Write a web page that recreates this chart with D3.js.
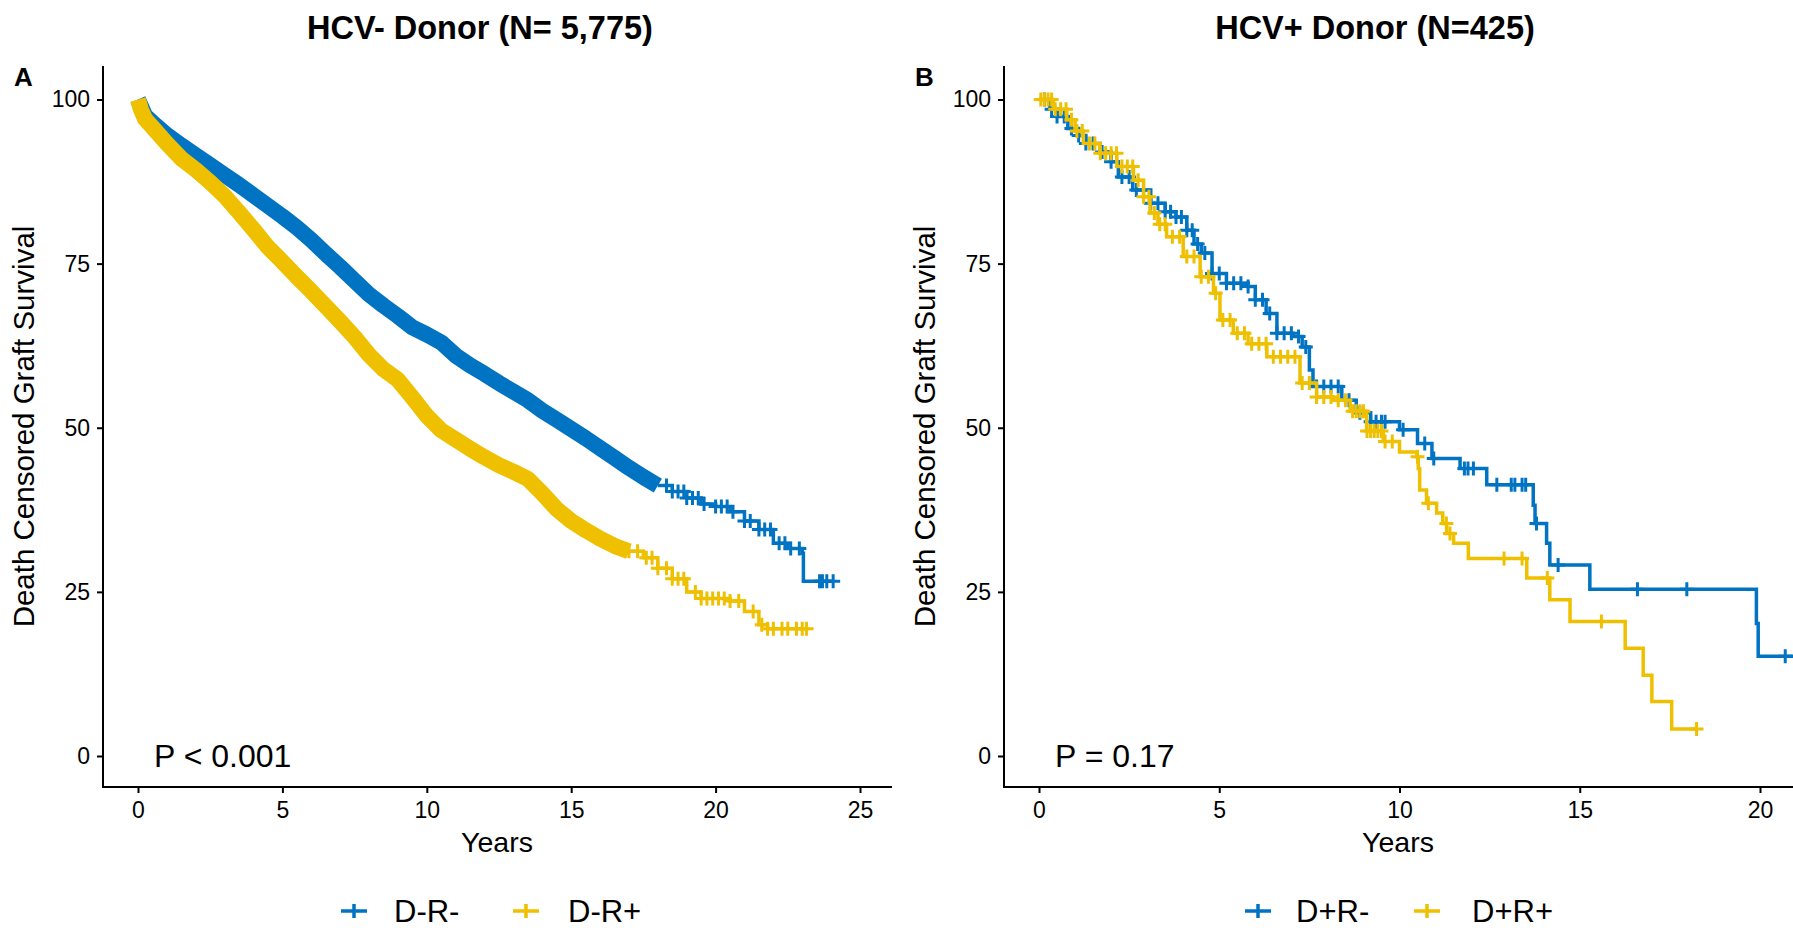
<!DOCTYPE html>
<html><head><meta charset="utf-8">
<script src="https://cdn.jsdelivr.net/npm/d3@7"></script>
<style>
html,body{margin:0;padding:0;background:#fff;}
svg text{font-family:"Liberation Sans",Arial,Helvetica,sans-serif;fill:#000;}
</style></head>
<body><svg id="chart" width="1793" height="931"></svg>
<script>
// ---------- data ----------
const colors = ["#0073C2", "#EFC000"];
const yTicks = [0, 25, 50, 75, 100];
const xTicksA = [0, 5, 10, 15, 20, 25];
const xTicksB = [0, 5, 10, 15, 20];

// Panel A : HCV- donor
const timeA_DRneg = [0,0.25,0.5,1,1.5,2,2.5,3,3.5,4,4.5,5,5.5,6,6.5,7,7.5,8,8.5,9,9.5,10,10.5,11,11.5,12,12.5,13,13.5,14,14.5,15,15.5,16,16.5,17,17.5,18,18.5,19,19.5,20,20.5,21,21.5,22,22.5,23,23.04,24.07];
const survA_DRneg = [100,97.5,96.5,94.6,93.0,91.5,90.0,88.5,87.0,85.4,83.8,82.2,80.5,78.6,76.5,74.5,72.4,70.3,68.6,67.0,65.3,64.2,63.0,61.0,59.5,58.2,56.8,55.5,54.2,52.6,51.2,49.8,48.4,46.9,45.4,43.9,42.5,41.2,40.3,39.3,38.4,38.0,37.2,35.8,34.5,32.4,31.6,30.9,26.6,26.6];
const timeA_DRpos = [0,0.1,0.25,0.5,1,1.5,2,2.5,3,3.5,4,4.5,5,5.5,6,6.5,7,7.5,8,8.5,9,9.5,10,10.5,11,11.5,12,12.5,13,13.5,14,14.5,15,15.5,16,16.5,17,17.5,18,18.5,19,19.5,20,20.5,21,21.5,21.8,23.15];
const survA_DRpos = [100,98.5,97.0,95.8,93.3,91.0,89.3,87.4,85.3,82.8,80.2,77.5,75.3,73.0,70.8,68.5,66.2,63.8,61.1,58.9,57.3,54.6,51.8,49.6,48.2,46.8,45.5,44.3,43.3,42.2,40.0,37.6,35.8,34.4,33.1,32.0,31.2,30.2,28.6,27.0,25.0,24.0,24.0,23.6,22.0,20.0,19.4,19.4];
// censored times in the sparse tail (earlier censoring is too dense to separate)
const censorA_DRneg = [18.3,18.5,18.7,18.9,19.0,19.2,19.4,19.6,20.0,20.2,20.4,20.6,21.0,21.2,21.5,21.7,21.9,22.2,22.4,22.6,22.9,23.6,23.7,23.85,24.07];
const censorA_DRpos = [17.0,17.3,17.6,17.8,18.0,18.3,18.5,18.7,18.9,19.3,19.5,19.7,19.9,20.1,20.3,20.5,20.8,21.3,21.6,21.8,22.0,22.3,22.5,22.8,23.0,23.15];

// Panel B : HCV+ donor
const timeB_DRneg = [0,0.3,0.5,0.8,1.1,1.3,1.7,2.0,2.2,2.6,3.1,3.5,3.8,4.1,4.3,4.5,4.8,5.2,5.8,6.0,6.3,6.6,7.05,7.3,7.5,7.6,8.4,8.8,9.2,10.0,10.5,10.9,11.68,12.42,13.71,13.76,14.08,14.17,15.28,19.9,19.95,21.3];
const survB_DRneg = [100,98.5,97.4,95.6,94.5,93.3,92.0,90.5,88.2,86.2,84.2,82.9,82.1,80.1,78.0,76.6,73.5,72.0,71.5,69.5,67.4,64.4,63.9,62.3,58.8,56.3,54.2,52.3,50.9,49.7,47.6,45.3,43.8,41.3,38.2,35.4,32.4,29.1,25.4,20.2,15.2,15.2];
const timeB_DRpos = [0,0.4,0.77,1.0,1.23,1.69,2.16,2.62,2.9,3.08,3.3,3.54,4.0,4.47,4.84,5.02,5.39,5.8,6.32,7.24,7.7,8.16,8.63,9.09,9.55,10.0,10.48,10.52,10.56,10.75,11.03,11.2,11.31,11.5,11.91,13.53,14.17,14.73,16.26,16.76,17.0,17.55,18.24];
const survB_DRpos = [100,98.5,96.9,95.2,93.3,91.8,89.8,87.7,85.2,82.7,81.0,79.1,76.1,73.0,70.5,66.4,64.4,62.8,60.8,56.8,54.7,54.2,52.5,49.5,47.9,46.3,45.6,43.8,40.5,38.5,37.0,35.4,33.9,32.4,30.1,27.1,23.8,20.5,16.4,12.3,8.3,4.1,4.1];
const censorB_DRneg = [0.15,0.35,0.5,0.7,0.9,1.1,1.3,1.5,1.75,2.0,2.3,2.5,2.7,2.9,3.1,3.3,3.5,3.65,3.8,3.95,4.1,4.25,4.4,4.6,4.8,5.0,5.2,5.4,5.6,5.8,6.0,6.2,6.4,6.6,6.8,7.0,7.2,7.4,7.7,7.9,8.1,8.3,8.6,8.9,9.2,9.35,9.5,9.6,10.1,10.7,10.95,11.8,11.9,12.05,12.7,13.1,13.2,13.4,13.5,13.8,14.4,16.6,17.97,20.7];
const censorB_DRpos = [0.05,0.15,0.25,0.35,0.45,0.6,0.75,0.9,1.05,1.2,1.4,1.55,1.7,1.85,2.0,2.15,2.3,2.45,2.6,2.75,2.9,3.05,3.2,3.35,3.5,3.7,3.9,4.1,4.3,4.5,4.7,4.9,5.1,5.3,5.5,5.7,5.9,6.1,6.3,6.5,6.7,6.9,7.1,7.3,7.5,7.7,7.9,8.1,8.3,8.5,8.7,8.8,8.9,9.0,9.1,9.2,9.3,9.4,9.5,9.6,9.8,10.5,10.8,11.3,11.4,12.9,13.4,14.1,15.6,18.24];

const panels = [
  {letter:"A", title:"HCV- Donor (N= 5,775)", pText:"P < 0.001", xTicks:xTicksA, xDomain:[0,25],
   names:["D-R-","D-R+"],
   series:[{t:timeA_DRneg,s:survA_DRneg,c:censorA_DRneg,dense:true},{t:timeA_DRpos,s:survA_DRpos,c:censorA_DRpos,dense:true}]},
  {letter:"B", title:"HCV+ Donor (N=425)", pText:"P = 0.17", xTicks:xTicksB, xDomain:[0,20],
   names:["D+R-","D+R+"],
   series:[{t:timeB_DRneg,s:survB_DRneg,c:censorB_DRneg,dense:false},{t:timeB_DRpos,s:survB_DRpos,c:censorB_DRpos,dense:false}]}
];

// ---------- layout ----------
const layout = [
  {axisX:103, left:103, right:892, x0:138, x1:860, titleX:480, ylabX:34, xlabX:497, legend:[354,394,526,568]},
  {axisX:1004, left:1004, right:1800, x0:1039, x1:1760, titleX:1375, ylabX:935, xlabX:1398, legend:[1258,1296,1427,1472]}
];
const axTop = 66, axBottom = 787;
const svg = d3.select("#chart");

panels.forEach((p, i) => {
  const L = layout[i];
  const x = d3.scaleLinear().domain(p.xDomain).range([L.x0, L.x1]);
  const y = d3.scaleLinear().domain([0,100]).range([756, 99.5]);
  const g = svg.append("g");

  g.append("text").attr("x", L.titleX).attr("y", 39).attr("text-anchor","middle")
    .style("font-size","32.5px").style("font-weight","bold").text(p.title);
  g.append("text").attr("x", L.axisX - 89).attr("y", 86)
    .style("font-size","26px").style("font-weight","bold").text(p.letter);

  const cid = "clip" + i;
  svg.append("clipPath").attr("id", cid).append("rect")
    .attr("x", L.left).attr("y", axTop - 20).attr("width", L.right - L.left).attr("height", axBottom - axTop + 20);
  const plot = g.append("g").attr("clip-path", `url(#${cid})`);

  p.series.forEach((s, k) => {
    const pts = s.t.map((t, j) => [t, s.s[j]]);
    const line = d3.line().x(d => x(d[0])).y(d => y(d[1])).curve(d3.curveStepAfter);
    let stepPts = pts;
    if (s.dense) {
      // overlapping censor marks of the large cohort form a solid band
      const lim = d3.min(s.c);
      const densePts = pts.filter(d => d[0] <= lim);
      const band = d3.line().x(d => x(d[0])).y(d => y(d[1]));
      plot.append("path").attr("d", band(densePts)).attr("fill","none")
        .attr("stroke", colors[k]).attr("stroke-width", 16).attr("stroke-linejoin","round").attr("stroke-linecap","butt");
      stepPts = pts.filter(d => d[0] >= densePts[densePts.length - 1][0]);
    }
    plot.append("path").attr("d", line(stepPts)).attr("fill","none")
      .attr("stroke", colors[k]).attr("stroke-width", 3.5);
    const bis = d3.bisector(d => d).right;
    const sz = 7;
    plot.selectAll(null).data(s.c).enter().append("path")
      .attr("d", t => {
        const idx = Math.max(0, bis(s.t, t) - 1);
        const cx = x(t), cy = y(s.s[idx]);
        return `M${cx - sz},${cy}H${cx + sz}M${cx},${cy - sz}V${cy + sz}`;
      })
      .attr("stroke", colors[k]).attr("stroke-width", 3).attr("fill","none");
  });

  const yAxis = d3.axisLeft(y).tickValues(yTicks).tickSize(6).tickPadding(7);
  const ya = g.append("g").attr("transform", `translate(${L.axisX},0)`).call(yAxis);
  ya.select(".domain").remove();
  ya.selectAll(".tick line").attr("stroke","#000").attr("stroke-width",2);
  ya.selectAll(".tick text").style("font-size","23px").attr("fill","#000");
  const xAxis = d3.axisBottom(x).tickValues(p.xTicks).tickSize(6).tickPadding(9);
  const xa = g.append("g").attr("transform", `translate(0,${axBottom})`).call(xAxis);
  xa.select(".domain").remove();
  xa.selectAll(".tick line").attr("stroke","#000").attr("stroke-width",2);
  xa.selectAll(".tick text").style("font-size","23px").attr("fill","#000");
  g.append("line").attr("x1", L.axisX).attr("x2", L.axisX).attr("y1", axTop).attr("y2", axBottom)
    .attr("stroke","#000").attr("stroke-width",2);
  g.append("line").attr("x1", L.axisX - 1).attr("x2", L.right).attr("y1", axBottom).attr("y2", axBottom)
    .attr("stroke","#000").attr("stroke-width",2);

  g.append("text").attr("transform", `translate(${L.ylabX},${(axTop+axBottom)/2}) rotate(-90)`)
    .attr("text-anchor","middle").style("font-size","29.5px").text("Death Censored Graft Survival");
  g.append("text").attr("x", L.xlabX).attr("y", 852)
    .attr("text-anchor","middle").style("font-size","28.5px").text("Years");

  g.append("text").attr("x", L.axisX + 51).attr("y", 767).style("font-size","32px").text(p.pText);

  [0,1].forEach(k => {
    const cx = L.legend[k*2], ty = 911;
    g.append("path").attr("d", `M${cx-13},${ty}H${cx+13}M${cx},${ty-7}V${ty+7}`)
      .attr("stroke", colors[k]).attr("stroke-width", 3.5).attr("fill","none");
    g.append("text").attr("x", L.legend[k*2+1]).attr("y", ty + 11).style("font-size","31px").text(p.names[k]);
  });
});
</script></body></html>
